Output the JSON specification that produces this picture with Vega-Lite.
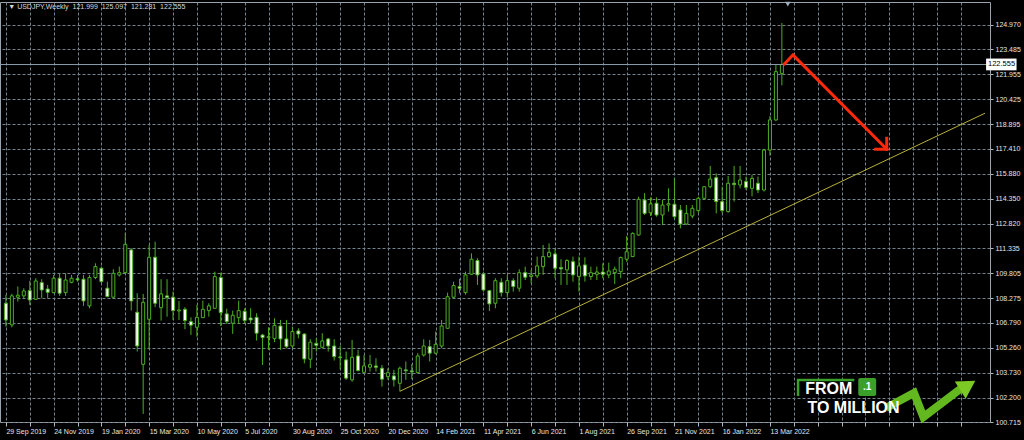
{
  "$schema": "https://vega.github.io/schema/vega-lite/v6.json",
  "width": 990,
  "height": 420,
  "autosize": {"type": "none"},
  "padding": {"left": 0, "top": 2, "right": 34, "bottom": 18},
  "background": "#000000",
  "config": {
    "view": {"stroke": "#9aa4ae", "strokeWidth": 1},
    "axis": {"labelFont": "Liberation Sans", "labelFontSize": 7, "labelColor": "#e6e6e6", "gridColor": "#74848f", "gridDash": [3, 2], "gridWidth": 1, "tickColor": "#b0b8c0", "domain": false, "title": null, "labelOverlap": false, "labelBound": false, "labelFlush": false}
  },
  "datasets": {
    "candles": [
      {"t":"2019-09-29","o":107.97,"h":108.48,"l":106.54,"c":106.95},
      {"t":"2019-10-06","o":106.65,"h":108.55,"l":106.50,"c":108.42},
      {"t":"2019-10-13","o":108.34,"h":108.99,"l":108.07,"c":108.46},
      {"t":"2019-10-20","o":108.42,"h":108.89,"l":108.23,"c":108.72},
      {"t":"2019-10-27","o":108.74,"h":109.33,"l":107.87,"c":108.17},
      {"t":"2019-11-03","o":108.21,"h":109.50,"l":108.17,"c":109.33},
      {"t":"2019-11-10","o":109.23,"h":109.44,"l":108.27,"c":108.78},
      {"t":"2019-11-17","o":108.84,"h":109.09,"l":108.27,"c":108.64},
      {"t":"2019-11-24","o":108.62,"h":109.70,"l":108.58,"c":109.50},
      {"t":"2019-12-01","o":109.50,"h":109.80,"l":108.42,"c":108.58},
      {"t":"2019-12-08","o":108.62,"h":109.80,"l":108.42,"c":109.39},
      {"t":"2019-12-15","o":109.25,"h":109.70,"l":109.19,"c":109.50},
      {"t":"2019-12-22","o":109.46,"h":109.70,"l":109.29,"c":109.40},
      {"t":"2019-12-29","o":109.44,"h":109.70,"l":107.81,"c":108.11},
      {"t":"2020-01-05","o":107.81,"h":109.70,"l":107.66,"c":109.54},
      {"t":"2020-01-12","o":109.54,"h":110.41,"l":109.44,"c":110.21},
      {"t":"2020-01-19","o":110.11,"h":110.21,"l":109.19,"c":109.29},
      {"t":"2020-01-26","o":108.89,"h":109.29,"l":108.34,"c":108.38},
      {"t":"2020-02-02","o":108.34,"h":110.05,"l":108.27,"c":109.80},
      {"t":"2020-02-09","o":109.70,"h":110.21,"l":109.60,"c":109.84},
      {"t":"2020-02-16","o":109.84,"h":112.28,"l":109.80,"c":111.57},
      {"t":"2020-02-23","o":111.23,"h":111.33,"l":107.52,"c":108.11},
      {"t":"2020-03-01","o":107.42,"h":108.58,"l":105.02,"c":105.36},
      {"t":"2020-03-08","o":104.24,"h":108.54,"l":101.21,"c":108.03},
      {"t":"2020-03-15","o":106.99,"h":111.53,"l":105.16,"c":110.78},
      {"t":"2020-03-22","o":110.78,"h":111.73,"l":107.73,"c":107.97},
      {"t":"2020-03-29","o":107.70,"h":109.44,"l":106.91,"c":108.54},
      {"t":"2020-04-05","o":108.42,"h":109.44,"l":107.15,"c":108.32},
      {"t":"2020-04-12","o":108.34,"h":108.68,"l":106.95,"c":107.52},
      {"t":"2020-04-19","o":107.50,"h":108.11,"l":106.95,"c":107.56},
      {"t":"2020-04-26","o":107.60,"h":107.73,"l":106.38,"c":106.91},
      {"t":"2020-05-03","o":106.85,"h":107.11,"l":106.04,"c":106.63},
      {"t":"2020-05-10","o":106.50,"h":107.87,"l":105.93,"c":107.11},
      {"t":"2020-05-17","o":107.09,"h":108.13,"l":107.07,"c":107.60},
      {"t":"2020-05-24","o":107.52,"h":107.97,"l":107.15,"c":107.81},
      {"t":"2020-05-31","o":107.66,"h":109.90,"l":107.64,"c":109.60},
      {"t":"2020-06-07","o":109.54,"h":109.84,"l":106.58,"c":107.40},
      {"t":"2020-06-14","o":107.32,"h":107.64,"l":106.71,"c":106.85},
      {"t":"2020-06-21","o":106.75,"h":107.52,"l":106.10,"c":107.24},
      {"t":"2020-06-28","o":107.09,"h":108.13,"l":106.75,"c":107.52},
      {"t":"2020-07-05","o":107.48,"h":107.66,"l":106.75,"c":106.91},
      {"t":"2020-07-12","o":107.07,"h":107.66,"l":106.75,"c":106.95},
      {"t":"2020-07-19","o":107.11,"h":107.36,"l":105.69,"c":106.14},
      {"t":"2020-07-26","o":106.03,"h":106.10,"l":104.20,"c":105.87},
      {"t":"2020-08-02","o":105.87,"h":106.50,"l":105.12,"c":105.93},
      {"t":"2020-08-09","o":105.81,"h":107.05,"l":105.59,"c":106.62},
      {"t":"2020-08-16","o":106.58,"h":106.95,"l":105.12,"c":105.79},
      {"t":"2020-08-23","o":105.79,"h":106.95,"l":105.22,"c":105.32},
      {"t":"2020-08-30","o":105.36,"h":106.54,"l":105.22,"c":106.24},
      {"t":"2020-09-06","o":106.28,"h":106.44,"l":105.83,"c":106.09},
      {"t":"2020-09-13","o":106.09,"h":106.14,"l":104.30,"c":104.57},
      {"t":"2020-09-20","o":104.55,"h":105.77,"l":104.00,"c":105.59},
      {"t":"2020-09-27","o":105.52,"h":105.83,"l":105.02,"c":105.40},
      {"t":"2020-10-04","o":105.28,"h":106.14,"l":105.22,"c":105.67},
      {"t":"2020-10-11","o":105.79,"h":105.85,"l":105.02,"c":105.36},
      {"t":"2020-10-18","o":105.36,"h":105.77,"l":104.47,"c":104.71},
      {"t":"2020-10-25","o":104.69,"h":105.36,"l":103.94,"c":104.65},
      {"t":"2020-11-01","o":104.51,"h":105.02,"l":103.29,"c":103.39},
      {"t":"2020-11-08","o":103.29,"h":105.73,"l":103.18,"c":104.67},
      {"t":"2020-11-15","o":104.75,"h":105.12,"l":103.80,"c":103.86},
      {"t":"2020-11-22","o":103.75,"h":104.81,"l":103.70,"c":104.14},
      {"t":"2020-11-29","o":104.06,"h":104.81,"l":103.80,"c":104.22},
      {"t":"2020-12-06","o":104.14,"h":104.61,"l":103.80,"c":104.06},
      {"t":"2020-12-13","o":104.00,"h":104.20,"l":102.88,"c":103.33},
      {"t":"2020-12-20","o":103.49,"h":104.00,"l":103.29,"c":103.73},
      {"t":"2020-12-27","o":103.53,"h":103.90,"l":102.88,"c":103.29},
      {"t":"2021-01-03","o":103.08,"h":104.10,"l":102.59,"c":104.00},
      {"t":"2021-01-10","o":103.90,"h":104.41,"l":103.29,"c":103.84},
      {"t":"2021-01-17","o":103.84,"h":104.26,"l":103.33,"c":103.78},
      {"t":"2021-01-24","o":103.73,"h":104.92,"l":103.70,"c":104.75},
      {"t":"2021-01-31","o":104.81,"h":105.77,"l":104.71,"c":105.36},
      {"t":"2021-02-07","o":105.32,"h":105.73,"l":104.41,"c":104.92},
      {"t":"2021-02-14","o":104.92,"h":106.24,"l":104.85,"c":105.46},
      {"t":"2021-02-21","o":105.36,"h":106.95,"l":105.22,"c":106.58},
      {"t":"2021-02-28","o":106.44,"h":108.62,"l":106.40,"c":108.37},
      {"t":"2021-03-07","o":108.34,"h":109.29,"l":108.30,"c":109.05},
      {"t":"2021-03-14","o":108.99,"h":109.46,"l":108.58,"c":108.89},
      {"t":"2021-03-21","o":108.62,"h":109.90,"l":108.50,"c":109.70},
      {"t":"2021-03-28","o":109.74,"h":111.02,"l":109.70,"c":110.66},
      {"t":"2021-04-04","o":110.58,"h":110.72,"l":109.09,"c":109.70},
      {"t":"2021-04-11","o":109.76,"h":109.90,"l":108.68,"c":108.78},
      {"t":"2021-04-18","o":108.74,"h":108.78,"l":107.50,"c":107.93},
      {"t":"2021-04-25","o":107.97,"h":109.50,"l":107.66,"c":109.35},
      {"t":"2021-05-02","o":109.25,"h":109.50,"l":108.38,"c":108.62},
      {"t":"2021-05-09","o":108.62,"h":109.70,"l":108.34,"c":109.35},
      {"t":"2021-05-16","o":109.35,"h":109.50,"l":108.68,"c":108.99},
      {"t":"2021-05-23","o":108.89,"h":110.05,"l":108.68,"c":109.84},
      {"t":"2021-05-30","o":109.84,"h":110.21,"l":109.39,"c":109.56},
      {"t":"2021-06-06","o":109.60,"h":110.01,"l":109.19,"c":109.70},
      {"t":"2021-06-13","o":109.64,"h":110.82,"l":109.50,"c":110.25},
      {"t":"2021-06-20","o":110.21,"h":111.53,"l":109.70,"c":110.82},
      {"t":"2021-06-27","o":110.82,"h":111.63,"l":110.75,"c":111.08},
      {"t":"2021-07-04","o":110.98,"h":111.27,"l":109.50,"c":110.11},
      {"t":"2021-07-11","o":110.15,"h":110.66,"l":109.09,"c":110.07},
      {"t":"2021-07-18","o":110.01,"h":110.66,"l":109.09,"c":110.58},
      {"t":"2021-07-25","o":110.51,"h":110.82,"l":109.29,"c":109.70},
      {"t":"2021-08-01","o":109.60,"h":110.82,"l":108.68,"c":110.25},
      {"t":"2021-08-08","o":110.31,"h":110.78,"l":109.29,"c":109.64},
      {"t":"2021-08-15","o":109.60,"h":110.21,"l":109.39,"c":109.84},
      {"t":"2021-08-22","o":109.74,"h":110.21,"l":109.39,"c":109.88},
      {"t":"2021-08-29","o":109.88,"h":110.41,"l":109.50,"c":109.74},
      {"t":"2021-09-05","o":109.70,"h":110.45,"l":109.50,"c":109.94},
      {"t":"2021-09-12","o":109.84,"h":110.21,"l":109.15,"c":110.05},
      {"t":"2021-09-19","o":109.90,"h":110.82,"l":109.50,"c":110.76},
      {"t":"2021-09-26","o":110.66,"h":112.08,"l":110.50,"c":111.12},
      {"t":"2021-10-03","o":110.82,"h":112.30,"l":110.80,"c":112.24},
      {"t":"2021-10-10","o":112.14,"h":114.48,"l":112.10,"c":114.32},
      {"t":"2021-10-17","o":114.28,"h":114.70,"l":113.36,"c":113.46},
      {"t":"2021-10-24","o":113.50,"h":114.44,"l":113.30,"c":114.04},
      {"t":"2021-10-31","o":114.08,"h":114.44,"l":113.26,"c":113.36},
      {"t":"2021-11-07","o":113.36,"h":114.28,"l":112.75,"c":113.97},
      {"t":"2021-11-14","o":113.97,"h":114.99,"l":113.57,"c":114.05},
      {"t":"2021-11-21","o":114.02,"h":115.60,"l":113.10,"c":113.26},
      {"t":"2021-11-28","o":113.67,"h":113.97,"l":112.55,"c":112.81},
      {"t":"2021-12-05","o":112.81,"h":113.97,"l":112.75,"c":113.46},
      {"t":"2021-12-12","o":113.30,"h":113.97,"l":113.16,"c":113.77},
      {"t":"2021-12-19","o":113.63,"h":114.48,"l":113.50,"c":114.38},
      {"t":"2021-12-26","o":114.38,"h":115.13,"l":114.30,"c":115.09},
      {"t":"2022-01-02","o":115.09,"h":116.36,"l":115.00,"c":115.56},
      {"t":"2022-01-09","o":115.64,"h":115.91,"l":113.46,"c":114.18},
      {"t":"2022-01-16","o":114.18,"h":115.09,"l":113.46,"c":113.63},
      {"t":"2022-01-23","o":113.57,"h":115.75,"l":113.50,"c":115.30},
      {"t":"2022-01-30","o":115.30,"h":116.36,"l":114.18,"c":115.22},
      {"t":"2022-02-06","o":115.20,"h":116.36,"l":114.99,"c":115.50},
      {"t":"2022-02-13","o":115.40,"h":115.71,"l":114.89,"c":115.05},
      {"t":"2022-02-20","o":114.99,"h":115.81,"l":114.50,"c":115.60},
      {"t":"2022-02-27","o":115.30,"h":115.71,"l":114.70,"c":114.89},
      {"t":"2022-03-06","o":114.89,"h":117.40,"l":114.80,"c":117.33},
      {"t":"2022-03-13","o":117.33,"h":119.41,"l":117.00,"c":119.17},
      {"t":"2022-03-20","o":119.17,"h":122.53,"l":119.10,"c":122.12},
      {"t":"2022-03-27","o":121.999,"h":125.097,"l":121.281,"c":122.555}
    ]
  },
  "layer": [
    {
      "data": {"name": "candles"},
      "mark": {"type": "rule", "color": "#4caf20", "strokeWidth": 1},
      "encoding": {
        "x": {"field": "t", "type": "temporal", "title": null, "scale": {"type": "utc", "domain": [1569625084800, 1668920544000], "nice": false},
          "axis": {"values": [1569715200000,1572134400000,1574553600000,1576972800000,1579392000000,1581811200000,1584230400000,1586649600000,1589068800000,1591488000000,1593907200000,1596326400000,1598745600000,1601164800000,1603584000000,1606003200000,1608422400000,1610841600000,1613260800000,1615680000000,1618099200000,1620518400000,1622937600000,1625356800000,1627776000000,1630195200000,1632614400000,1635033600000,1637452800000,1639872000000,1642291200000,1644710400000,1647129600000,1649548800000,1651968000000,1654387200000,1656806400000,1659225600000,1661644800000,1664064000000,1666483200000],
            "tickCount": 200,
            "labelExpr": "(datum.value <= 1647129600000 && round((datum.value - 1569715200000) / 604800000) % 8 == 0) ? utcFormat(datum.value, '%-d %b %Y') : ''",
            "grid": true, "ticks": true, "tickSize": 4, "labelAlign": "left", "labelBaseline": "top", "labelPadding": 1, "title": null}},
        "y": {"field": "l", "type": "quantitative", "title": null, "scale": {"domain": [100.715, 126.375], "zero": false, "nice": false},
          "axis": {"orient": "right", "values": [124.970,123.485,121.955,120.425,118.895,117.410,115.880,114.350,112.820,111.335,109.805,108.275,106.790,105.260,103.730,102.200,100.715],
            "tickCount": 200,
            "format": ".3f", "grid": true, "tickSize": 3, "labelPadding": 2, "labelAlign": "left", "labelBaseline": "middle", "title": null}},
        "y2": {"field": "h"}
      }
    },
    {
      "data": {"name": "candles"},
      "mark": {"type": "bar", "width": 3, "stroke": "#4caf20", "strokeWidth": 1},
      "encoding": {
        "x": {"field": "t", "type": "temporal", "title": null},
        "y": {"field": "o", "type": "quantitative", "title": null},
        "y2": {"field": "c"},
        "fill": {"condition": {"test": "datum.c >= datum.o", "value": "#000000"}, "value": "#ffffff"}
      }
    },
    {
      "data": {"values": [{"p": 122.555}]},
      "mark": {"type": "rule", "color": "#8a9bab", "strokeWidth": 1},
      "encoding": {
        "y": {"field": "p", "type": "quantitative", "title": null}
      }
    },
    {
      "data": {"values": [{"t": "2021-01-03", "p": 102.59}, {"t": "2022-11-20T05:00:00Z", "p": 119.58}]},
      "mark": {"type": "line", "color": "#b8b03a", "strokeWidth": 1},
      "encoding": {
        "x": {"field": "t", "type": "temporal", "title": null},
        "y": {"field": "p", "type": "quantitative", "title": null}
      }
    },
    {
      "data": {"values": [
        {"t": "2022-03-30", "p": 122.59, "s": "a", "o": 1},
        {"t": "2022-04-09", "p": 123.14, "s": "a", "o": 2},
        {"t": "2022-07-28", "p": 117.38, "s": "a", "o": 3},
        {"t": "2022-07-15", "p": 117.38, "s": "b", "o": 1},
        {"t": "2022-07-28", "p": 117.38, "s": "b", "o": 2},
        {"t": "2022-07-28", "p": 118.05, "s": "c", "o": 1},
        {"t": "2022-07-28", "p": 117.38, "s": "c", "o": 2}
      ]},
      "mark": {"type": "line", "color": "#ff2a0a", "strokeWidth": 3, "strokeCap": "square", "strokeJoin": "miter"},
      "encoding": {
        "x": {"field": "t", "type": "temporal", "title": null},
        "y": {"field": "p", "type": "quantitative", "title": null},
        "detail": {"field": "s"},
        "order": {"field": "o"}
      }
    },
    {
      "data": {"values": [{"t": "2022-11-21T12:00:00Z", "t2": "2022-12-27T05:00:00Z", "p": 122.92, "p2": 122.20}]},
      "mark": {"type": "rect", "fill": "#ffffff", "clip": false},
      "encoding": {
        "x": {"field": "t", "type": "temporal", "title": null},
        "x2": {"field": "t2"},
        "y": {"field": "p", "type": "quantitative", "title": null},
        "y2": {"field": "p2"}
      }
    },
    {
      "data": {"values": [{"t": "2022-12-09T14:00:00Z", "p": 122.56, "label": "122.555"}]},
      "mark": {"type": "text", "color": "#000000", "font": "Liberation Sans", "fontSize": 7.5, "align": "center", "baseline": "middle", "clip": false},
      "encoding": {
        "x": {"field": "t", "type": "temporal", "title": null},
        "y": {"field": "p", "type": "quantitative", "title": null},
        "text": {"field": "label"}
      }
    },
    {
      "data": {"values": [{"t": "2019-10-01T19:00:00Z", "p": 126.07, "label": "▼ USDJPY,Weekly\u00a0\u00a0121.999\u00a0\u00a0125.097\u00a0\u00a0121.281\u00a0\u00a0122.555"}]},
      "mark": {"type": "text", "color": "#d8d8d8", "font": "Liberation Sans", "fontSize": 7, "align": "left", "baseline": "middle"},
      "encoding": {
        "x": {"field": "t", "type": "temporal", "title": null},
        "y": {"field": "p", "type": "quantitative", "title": null},
        "text": {"field": "label"}
      }
    },
    {
      "data": {"values": [{"t": "2022-04-03", "p": 126.25}]},
      "mark": {"type": "point", "shape": "triangle-down", "size": 30, "filled": true, "color": "#a0aebc", "opacity": 1},
      "encoding": {
        "x": {"field": "t", "type": "temporal", "title": null},
        "y": {"field": "p", "type": "quantitative", "title": null}
      }
    },
    {
      "data": {"values": [
        {"t": "2022-04-15", "p": 102.30, "o": 1},
        {"t": "2022-04-15", "p": 103.28, "o": 2},
        {"t": "2022-06-20", "p": 103.28, "o": 3}
      ]},
      "mark": {"type": "line", "color": "#3aa02a", "strokeWidth": 2.5, "strokeJoin": "miter"},
      "encoding": {
        "x": {"field": "t", "type": "temporal", "title": null},
        "y": {"field": "p", "type": "quantitative", "title": null},
        "order": {"field": "o"}
      }
    },
    {
      "data": {"values": [{"t": "2022-06-24T14:00:00Z", "t2": "2022-07-15T14:00:00Z", "p": 102.30, "p2": 103.40}]},
      "mark": {"type": "rect", "fill": "#3aa02a", "cornerRadius": 2},
      "encoding": {
        "x": {"field": "t", "type": "temporal", "title": null},
        "x2": {"field": "t2"},
        "y": {"field": "p", "type": "quantitative", "title": null},
        "y2": {"field": "p2"}
      }
    },
    {
      "data": {"values": [
        {"t": "2022-07-27", "p": 101.57, "o": 1},
        {"t": "2022-08-29", "p": 102.49, "o": 2},
        {"t": "2022-09-09", "p": 101.02, "o": 3},
        {"t": "2022-10-24", "p": 102.80, "o": 4}
      ]},
      "mark": {"type": "line", "color": "#62b81e", "strokeWidth": 8, "strokeJoin": "miter"},
      "encoding": {
        "x": {"field": "t", "type": "temporal", "title": null},
        "y": {"field": "p", "type": "quantitative", "title": null},
        "order": {"field": "o"}
      }
    },
    {
      "data": {"values": [{"t": "2022-10-31", "p": 102.95}]},
      "mark": {"type": "point", "shape": "triangle-right", "size": 420, "filled": true, "color": "#7cc824", "opacity": 1, "angle": -32},
      "encoding": {
        "x": {"field": "t", "type": "temporal", "title": null},
        "y": {"field": "p", "type": "quantitative", "title": null}
      }
    },
    {
      "data": {"values": [
        {"t": "2022-05-21", "p": 102.73, "label": "FROM"},
        {"t": "2022-06-19", "p": 101.57, "label": "TO MILLION"}
      ]},
      "mark": {"type": "text", "color": "#ffffff", "font": "Liberation Sans", "fontWeight": "bold", "fontSize": 16, "align": "center", "baseline": "middle"},
      "encoding": {
        "x": {"field": "t", "type": "temporal", "title": null},
        "y": {"field": "p", "type": "quantitative", "title": null},
        "text": {"field": "label"}
      }
    },
    {
      "data": {"values": [{"t": "2022-07-05", "p": 102.85, "label": ".1"}]},
      "mark": {"type": "text", "color": "#ffffff", "font": "Liberation Sans", "fontWeight": "bold", "fontSize": 10, "align": "center", "baseline": "middle"},
      "encoding": {
        "x": {"field": "t", "type": "temporal", "title": null},
        "y": {"field": "p", "type": "quantitative", "title": null},
        "text": {"field": "label"}
      }
    }
  ]
}
